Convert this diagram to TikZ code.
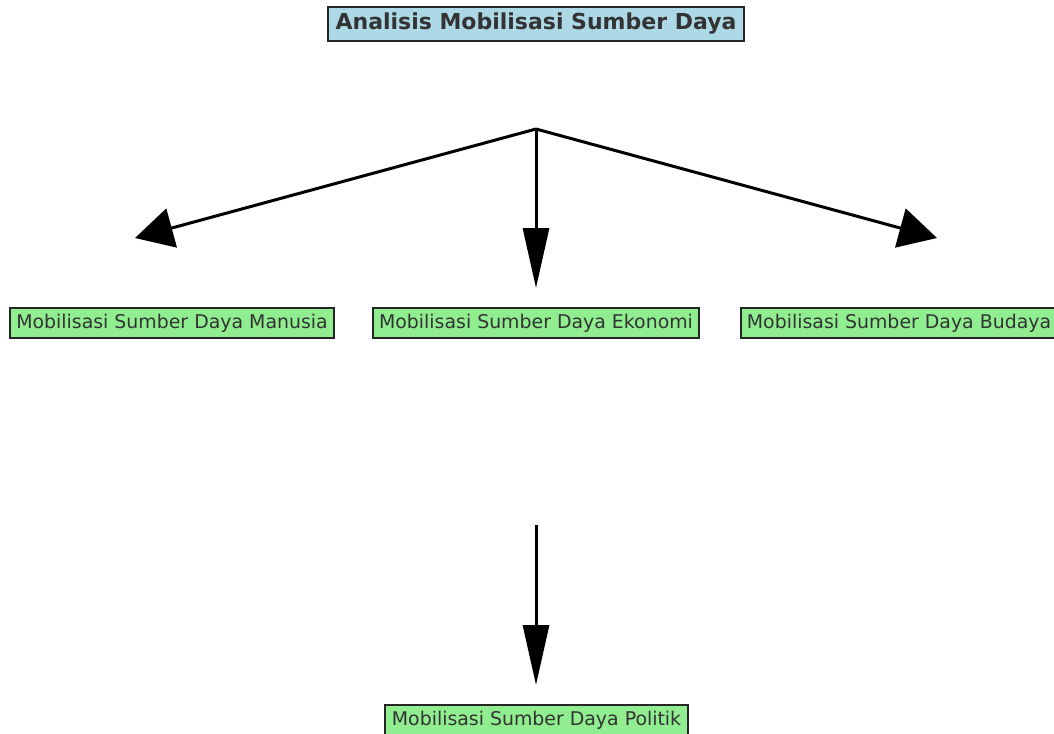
\documentclass[tikz,border=0pt]{standalone}
\usepackage{fontspec}
\setmainfont{DejaVu Sans}
\usetikzlibrary{arrows.meta}
\definecolor{txt}{HTML}{333333}
\definecolor{titlebg}{HTML}{ADD8E6}
\definecolor{boxbg}{HTML}{90EE90}
\tikzset{
  titlebox/.style={draw=black!85, line width=1.3pt, fill=titlebg, text=txt, font=\fontsize{22}{26}\selectfont\bfseries, minimum width=416pt, minimum height=34pt, inner sep=0pt},
  resbox/.style={draw=black!85, line width=1.3pt, fill=boxbg, text=txt, font=\fontsize{18.9}{22}\selectfont, minimum height=30pt, inner sep=0pt},
  sidearrow/.style={line width=3pt, -{Triangle[length=38pt,width=40pt]}},
  downarrow/.style={line width=3pt, -{Triangle[length=60pt,width=26pt]}}
}
\begin{document}
\begin{tikzpicture}[x=1pt,y=-1pt]
\useasboundingbox (0,0) rectangle (1054,733);
\begin{scope}
\clip (0,0) rectangle (1054,733);
\node[titlebox] (title) at (536,24) {Analisis Mobilisasi Sumber Daya};
\node[resbox, minimum width=324pt] (manusia) at (172,323) {Mobilisasi Sumber Daya Manusia};
\node[resbox, minimum width=326pt] (ekonomi) at (536,323) {Mobilisasi Sumber Daya Ekonomi};
\node[resbox, minimum width=316pt] (budaya) at (899,323) {Mobilisasi Sumber Daya Budaya};
\node[resbox, minimum width=303pt] (politik) at (536.5,720) {Mobilisasi Sumber Daya Politik};
\coordinate (hub) at (536,129);
\coordinate (tipL) at (135,238);
\coordinate (tipM) at (536,288);
\coordinate (tipR) at (937,238);
\coordinate (start2) at (536,525);
\coordinate (tipB) at (536,685);
\draw[sidearrow] (hub) -- (tipL);
\draw[downarrow] (hub) -- (tipM);
\draw[sidearrow] (hub) -- (tipR);
\draw[downarrow] (start2) -- (tipB);
\end{scope}
\end{tikzpicture}
\end{document}
